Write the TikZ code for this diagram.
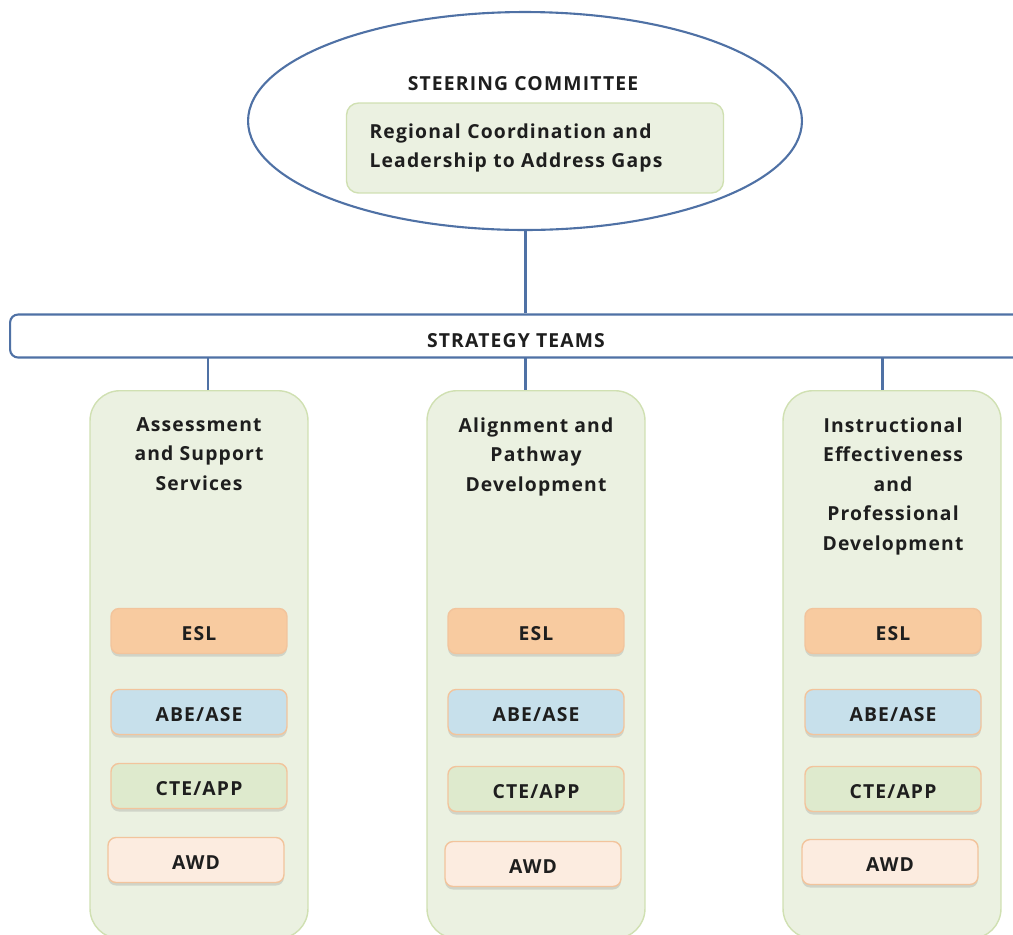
\documentclass[tikz,border=0pt]{standalone}
\usepackage{fontspec}
\setmainfont[LetterSpace=6]{Open Sans}
\usetikzlibrary{shapes.geometric,shadows}
\definecolor{linkblue}{RGB}{79,113,165}
\definecolor{teamgreen}{RGB}{235,241,225}
\definecolor{teamedge}{RGB}{208,224,178}
\definecolor{peachedge}{RGB}{242,196,156}
\definecolor{eslfill}{RGB}{248,203,160}
\definecolor{abefill}{RGB}{199,224,235}
\definecolor{ctefill}{RGB}{222,234,205}
\definecolor{awdfill}{RGB}{252,236,224}
\definecolor{ink}{RGB}{30,30,30}
\tikzset{
  every node/.style={font=\bfseries\fontsize{11}{16.8}\selectfont, text=ink},
  link/.style={draw=linkblue, line width=1.7pt},
  teambox/.style={draw=teamedge, fill=teamgreen, line width=0.8pt, rounded corners=0.6cm,
    minimum width=4.36cm, minimum height=10.96cm, anchor=north},
  title/.style={align=center, anchor=north, inner sep=0pt},
  unit/.style={draw=peachedge, line width=0.8pt, rounded corners=0.16cm,
    minimum width=3.52cm, minimum height=0.9cm, text height=0.36cm, text depth=0pt,
    drop shadow={opacity=0.25, shadow xshift=0pt, shadow yshift=-0.06cm}},
}
\begin{document}
\begin{tikzpicture}[x=0.02cm, y=-0.02cm]
\useasboundingbox (0,0) rectangle (1013,934);
% steering committee
\node[ellipse, draw=linkblue, line width=1.2pt, minimum width=11.08cm, minimum height=4.36cm] (steer) at (525,121) {};
\node (steertitle) at (523,84) {STEERING COMMITTEE};
\node[draw=teamedge, fill=teamgreen, line width=0.8pt, rounded corners=0.24cm, minimum width=7.54cm, minimum height=1.8cm,
  text width=6.62cm, inner xsep=0.46cm, align=left] (gaps) at (535,148) {Regional Coordination and\\Leadership to Address Gaps};
% strategy teams bar
\node[draw=linkblue, line width=1.2pt, fill=white, rounded corners=0.16cm, minimum width=20.24cm, minimum height=0.86cm,
  text height=0.45cm, text depth=0pt] (bar) at (516,336) {STRATEGY TEAMS};
\draw[link] (steer.south) -- (steer.south |- bar.north);
% teams
\node[teambox] (team1) at (199,390) {};
\node[teambox] (team2) at (536,390) {};
\node[teambox] (team3) at (892,390) {};
\coordinate (t1) at (208,358);
\coordinate (t2) at (525,358);
\coordinate (t3) at (882,358);
\draw[link] (t1) -- (t1 |- team1.north);
\draw[link] (t2) -- (t2 |- team2.north);
\draw[link] (t3) -- (t3 |- team3.north);
\node[title] (title1) at (199,417) {Assessment\\and Support\\Services};
\node[title] (title2) at (536,417) {Alignment and\\Pathway\\Development};
\node[title] (title3) at (893,417) {Instructional\\Effectiveness\\and\\Professional\\Development};
% programs
\node[unit, fill=eslfill] (esl1) at (199,631) {ESL};
\node[unit, fill=abefill] (abe1) at (199,712) {ABE/ASE};
\node[unit, fill=ctefill] (cte1) at (199,786) {CTE/APP};
\node[unit, fill=awdfill] (awd1) at (196,860) {AWD};
\node[unit, fill=eslfill] (esl2) at (536,631) {ESL};
\node[unit, fill=abefill] (abe2) at (536,712) {ABE/ASE};
\node[unit, fill=ctefill] (cte2) at (536,789) {CTE/APP};
\node[unit, fill=awdfill] (awd2) at (533,864) {AWD};
\node[unit, fill=eslfill] (esl3) at (893,631) {ESL};
\node[unit, fill=abefill] (abe3) at (893,712) {ABE/ASE};
\node[unit, fill=ctefill] (cte3) at (893,789) {CTE/APP};
\node[unit, fill=awdfill] (awd3) at (890,862) {AWD};
\end{tikzpicture}
\end{document}
